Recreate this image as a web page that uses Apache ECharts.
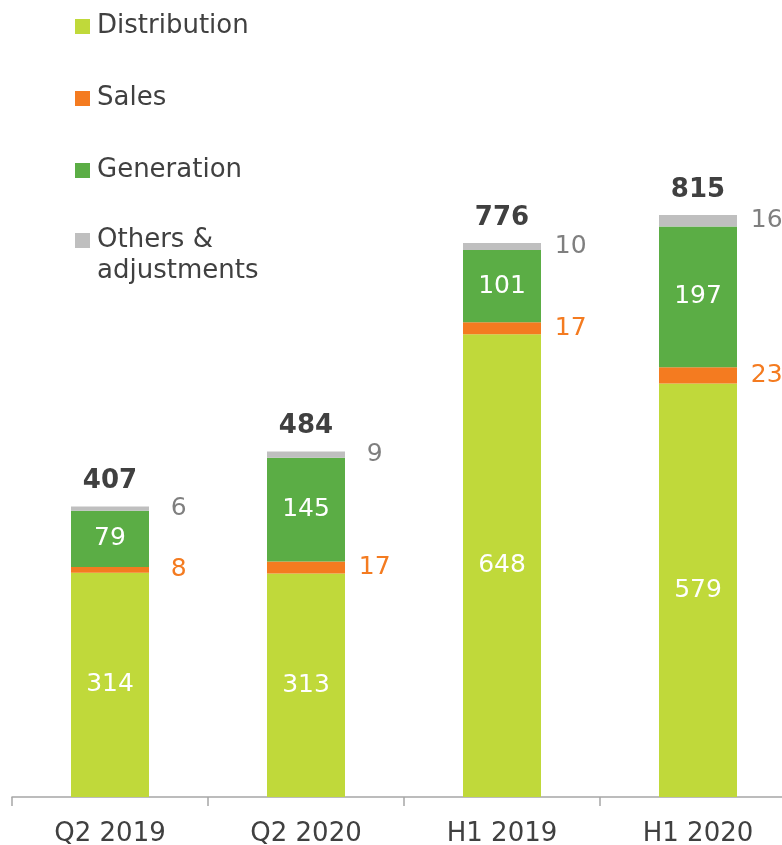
<!DOCTYPE html>
<html>
<head>
<meta charset="utf-8">
<script src="https://cdn.jsdelivr.net/npm/echarts@6/dist/echarts.min.js"></script>
<style>
html,body{margin:0;padding:0;background:#fff;}
#chart{width:782px;height:845px;}
</style>
</head>
<body>
<div id="chart"></div>
<script>
var categories = ['Q2 2019', 'Q2 2020', 'H1 2019', 'H1 2020'];
var distribution = [314, 313, 648, 579];
var sales = [8, 17, 17, 23];
var generation = [79, 145, 101, 197];
var others = [6, 9, 10, 16];
var totals = [407, 484, 776, 815];

buildChart();

function buildChart(){
	var chart = echarts.init(document.getElementById('chart'));
	var font = 'DejaVu Sans';
	var legendText = {color:'#404040', fontSize:26, lineHeight:31, fontFamily:font, padding:[0,0,0,2]};
	var inside = {show:true, position:'inside', color:'#fff', fontSize:25, fontFamily:font};
	// small segments get their value beside the bar
	function beside(color){
		return {show:true, position:['138%','50%'], align:'center', verticalAlign:'middle',
			color:color, fontSize:25, fontFamily:font};
	}
	var option = {
		animation:false,
		textStyle:{fontFamily:font},
		legend:[{
			orient:'vertical',
			left:70, top:6,
			itemWidth:15, itemHeight:15,
			itemGap:41,
			icon:'rect',
			textStyle:legendText,
			data:['Distribution', 'Sales', 'Generation']
		}, {
			// separate legend so the square lines up with the first line of the name
			orient:'vertical',
			left:70, top:220,
			itemWidth:15, itemHeight:46,
			icon:'path://M0,0h15v15h-15z M0,46h15',
			textStyle:legendText,
			data:['Others & adjustments'],
			formatter:function(){ return 'Others &\nadjustments'; }
		}],
		grid:{left:12, width:784, top:83, bottom:48, outerBoundsMode:'none', containLabel:false},
		xAxis:{
			type:'category',
			data:categories,
			axisLine:{lineStyle:{color:'#a6a6a6', width:1.5}},
			axisTick:{show:true, length:9, lineStyle:{color:'#a6a6a6', width:1.5}},
			axisLabel:{color:'#404040', fontSize:26, margin:24, fontFamily:font}
		},
		yAxis:{type:'value', min:0, max:1000, show:false, splitLine:{show:false}},
		series:[
			{name:'Distribution', type:'bar', stack:'s', barWidth:78, data:distribution,
				itemStyle:{color:'#c0d93a'}, label:inside},
			{name:'Sales', type:'bar', stack:'s', data:sales,
				itemStyle:{color:'#f47b20'}, label:beside('#f47b20')},
			{name:'Generation', type:'bar', stack:'s', data:generation,
				itemStyle:{color:'#5bad45'}, label:inside},
			{name:'Others & adjustments', type:'bar', stack:'s', data:others,
				itemStyle:{color:'#bfbfbf'}, label:beside('#7f7f7f')},
			{name:'Total', type:'bar', stack:'s', data:totals.map(function(){return 0;}),
				itemStyle:{color:'transparent'},
				label:{show:true, position:'top', distance:12, color:'#404040', fontSize:26, fontWeight:'bold', fontFamily:font,
					formatter:function(p){return totals[p.dataIndex];}}}
		]
	};
	chart.setOption(option);
}
</script>
</body>
</html>
